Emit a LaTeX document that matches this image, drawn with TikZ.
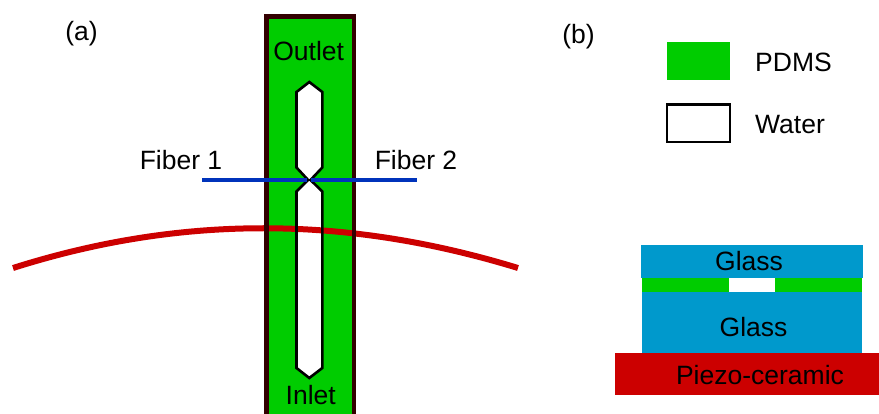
\documentclass[tikz,border=0pt]{standalone}
\usepackage{fontspec}
\setmainfont{Liberation Sans}
\usepackage{xcolor}
\usetikzlibrary{calc}
\definecolor{pdms}{RGB}{0,204,0}
\definecolor{vidrio}{RGB}{0,153,204}
\definecolor{piezo}{RGB}{204,0,0}
\definecolor{marco}{RGB}{51,0,0}
\definecolor{fibra}{RGB}{0,51,187}

\begin{document}
\begin{tikzpicture}[x=1pt, y=-1pt, every node/.style={font=\fontsize{26.5}{30}\selectfont, align=center, inner sep=0pt},
  fiberline/.style={draw=fibra, line width=3.4pt},
  canal/.style={draw=black, line width=2.6pt, line join=miter}]
\useasboundingbox (0,0) rectangle (879,414);
% chip
\fill[pdms] (266,16) rectangle (354,414);
\fill[white] (296.5,92) -- (309.3,82) -- (322.3,92) -- (322.3,167.5) -- (310.5,180) -- (322.3,191.5)
  -- (322.3,368) -- (309.3,378) -- (296.5,368) -- (296.5,191.5) -- (308.1,180) -- (296.5,167.5) -- cycle;
\coordinate (arcL) at (13,268);
\coordinate (arcR) at (518,268);
\draw[piezo, line width=6pt] (arcL) .. controls (180,215) and (345,215) .. (arcR);
\draw[marco, line width=4.6pt, line cap=round] (266.5,414) -- (266.5,16.5) -- (354,16.5) -- (354,414);
\draw[canal] (296.5,92) -- (309.3,82) -- (322.3,92) -- (322.3,167.5) -- (310.5,180) -- (322.3,191.5)
  -- (322.3,368) -- (309.3,378) -- (296.5,368) -- (296.5,191.5) -- (308.1,180) -- (296.5,167.5) -- cycle;
% fibers
\coordinate (f1a) at (202,180);
\coordinate (f1b) at (307,180);
\coordinate (f2a) at (311,180);
\coordinate (f2b) at (417,180);
\draw[fiberline] (f1a) -- (f1b);
\draw[fiberline] (f2a) -- (f2b);
\node (outlet) at (308.7,51) {Outlet};
\node (inlet) at (310.7,395) {Inlet};
\node (fiber1) at (181,160.5) {Fiber 1};
\node (fiber2) at (416,160.5) {Fiber 2};
\node (a) at (81.5,34) {(a)};
\node (b) at (578.5,37) {(b)};
% legend
\fill[pdms] (667,42) rectangle (730,80);
\draw[black, line width=2.6pt] (667,104.5) rectangle (730,142);
\node[anchor=west] (pdmstxt) at (755,62.5) {PDMS};
\node[anchor=west] (watertxt) at (755,124.5) {Water};
% stack
\fill[vidrio] (641,245) rectangle (862.5,278);
\fill[pdms] (642,278) rectangle (862,292.5);
\fill[white] (729,278) rectangle (775,292.5);
\fill[vidrio] (641.5,292.5) rectangle (862,353.5);
\fill[piezo] (615,353.5) rectangle (879,395);
\node (glass1) at (749,261) {Glass};
\node (glass2) at (753.5,327) {Glass};
\node (piezotxt) at (760,375) {Piezo-ceramic};
\end{tikzpicture}
\end{document}
